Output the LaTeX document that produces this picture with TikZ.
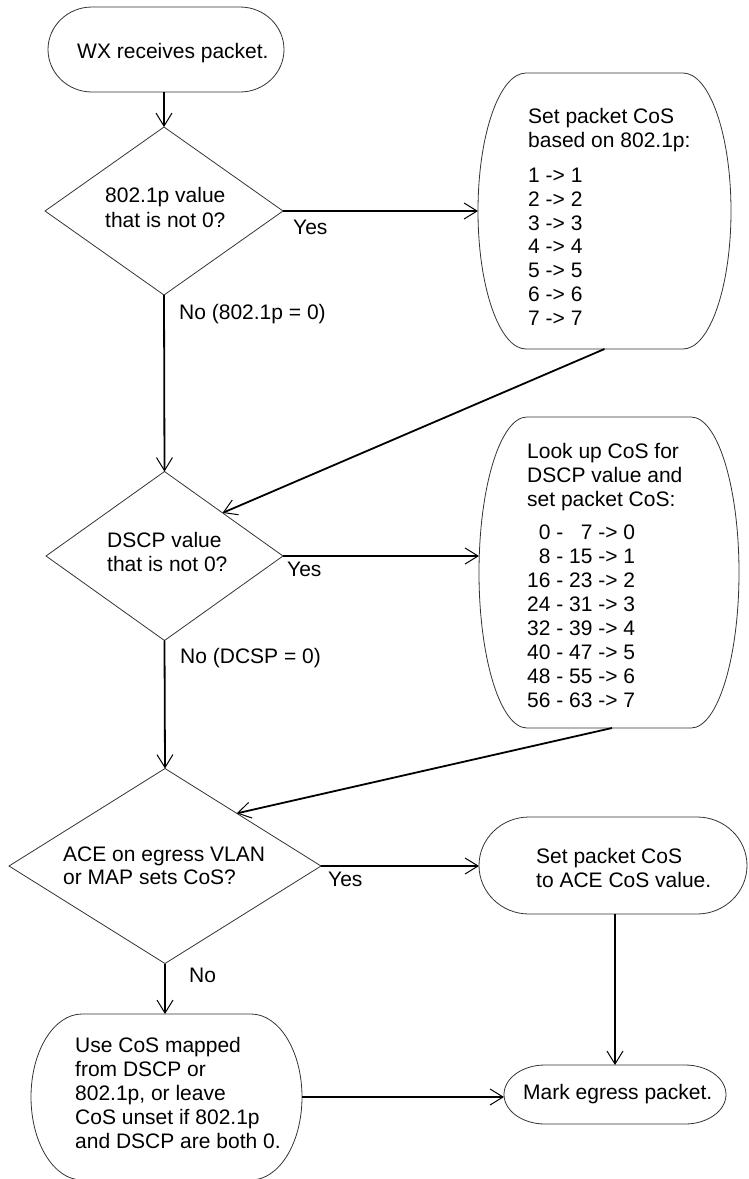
\documentclass[tikz,border=0pt]{standalone}
\usepackage{fontspec}
\setmainfont{Liberation Sans}
\usetikzlibrary{shapes.geometric,arrows.meta,calc}
\newcommand\barrelshape[3]{\draw[shapeline] ([xshift=#2pt]#1.north west) -- ([xshift=-#2pt]#1.north east) arc[start angle=90,end angle=-90,x radius=#2pt,y radius=#3pt] -- ([xshift=#2pt]#1.south west) arc[start angle=270,end angle=90,x radius=#2pt,y radius=#3pt] -- cycle;}
\begin{document}
\begin{tikzpicture}[x=1pt,y=1pt,
 shapeline/.style={draw=black!80,line width=0.8pt},
 frame/.style={rectangle,inner sep=0pt,outer sep=0pt},
 dec/.style={diamond,shapeline,inner sep=0pt,outer sep=0pt},
 txt/.style={inner sep=0pt,anchor=base west,align=left,font=\fontsize{21}{24}\selectfont},
 tab/.style={inner sep=0pt,anchor=base west,font=\fontsize{21}{24}\selectfont},
 conn/.style={line width=1.8pt,-{Straight Barb[length=13pt,width=16pt,line width=1pt]}},
]
\useasboundingbox (0,0) rectangle (748,-1179);
\clip (0,0) rectangle (748,-1179);

% process boxes
\node[frame,minimum width=236pt,minimum height=85pt] (start) at (166,-49.5) {};
\barrelshape{start}{44}{42.5}
\node[frame,minimum width=253pt,minimum height=276pt] (b1) at (604.5,-211) {};
\barrelshape{b1}{48}{138}
\node[frame,minimum width=260pt,minimum height=311pt] (b2) at (609,-572.5) {};
\barrelshape{b2}{48}{155.5}
\node[frame,minimum width=268pt,minimum height=97pt] (b3) at (613,-865.5) {};
\barrelshape{b3}{50}{48.5}
\node[frame,minimum width=222pt,minimum height=59pt] (mark) at (615,-1094.5) {};
\barrelshape{mark}{41}{29.5}
\node[frame,minimum width=271pt,minimum height=166pt] (b4) at (166.5,-1097) {};
\barrelshape{b4}{51}{83}

% decisions
\node[dec,minimum width=238pt,minimum height=168pt] (d1) at (164,-211) {};
\node[dec,minimum width=237pt,minimum height=169pt] (d2) at (164.5,-556) {};
\node[dec,minimum width=312pt,minimum height=195pt] (d3) at (165,-866) {};

% texts (multi-line nodes are placed by the baseline of their last line)
\node[txt] (t0) at (77,-58) {WX receives packet.};
\node[txt] (t1) at (105,-227) {802.1p value\\[1pt]that is not 0?};
\node[txt] (y1) at (293,-234) {Yes};
\node[txt] (n1) at (179,-319) {No (802.1p = 0)};
\node[txt] (t2) at (528,-147) {Set packet CoS\\based on 802.1p:};
\node[txt,font=\fontsize{21}{23.7}\selectfont] (t2b) at (528,-325) {1 -> 1\\2 -> 2\\3 -> 3\\4 -> 4\\5 -> 5\\6 -> 6\\7 -> 7};
\node[txt] (t3) at (107,-571) {DSCP value\\that is not 0?};
\node[txt] (y2) at (287,-576) {Yes};
\node[txt] (n2) at (180,-663) {No (DCSP = 0)};
\node[txt] (t4) at (527,-506) {Look up CoS for\\DSCP value and\\set packet CoS:};
\node[tab] (t4b) at (527,-539) {\begin{tabular}[t]{@{}r@{ - }r@{ -> }l@{}}0&7&0\\8&15&1\\16&23&2\\24&31&3\\32&39&4\\40&47&5\\48&55&6\\56&63&7\end{tabular}};
\node[txt] (t5) at (63,-884) {ACE on egress VLAN\\[-1pt]or MAP sets CoS?};
\node[txt] (y3) at (328,-886) {Yes};
\node[txt] (t6) at (536,-887) {Set packet CoS\\to ACE CoS value.};
\node[txt] (n3) at (189,-982) {No};
\node[txt] (t7) at (75,-1148) {Use CoS mapped\\from DSCP or\\802.1p, or leave\\CoS unset if 802.1p\\and DSCP are both 0.};
\node[txt] (t8) at (523,-1099) {Mark egress packet.};

% connectors
\draw[conn] (d1.north |- start.south) -- (d1.north);
\draw[conn] (d1.east) -- (b1.west |- d1.east);
\draw[conn] (d1.south) -- (d2.north);
\draw[conn] (b1.south) -- ($(d2.north)!0.49!(d2.east)$);
\draw[conn] (d2.east) -- (b2.west |- d2.east);
\draw[conn] (d2.south) -- (d3.north);
\draw[conn] ([xshift=3pt]b2.south) -- ($(d3.north)!0.46!(d3.east)$);
\draw[conn] (d3.east) -- (b3.west |- d3.east);
\draw[conn] (d3.south) -- (d3.south |- b4.north);
\draw[conn] (b3.south -| mark.north) -- (mark.north);
\draw[conn] (b4.east) -- (b4.east -| mark.west);
\end{tikzpicture}
\end{document}
